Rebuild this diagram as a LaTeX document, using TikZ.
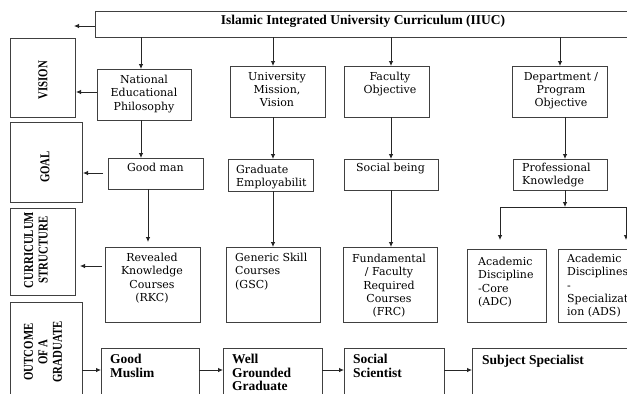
\documentclass[tikz,border=0pt]{standalone}
\usepackage{fontspec}
\setmainfont{Liberation Serif}
\newfontfamily\txtfont{DejaVu Serif}
\newfontfamily\labfont[FakeStretch=0.8]{Liberation Serif}
\usetikzlibrary{arrows.meta,fit}
\begin{document}
\begin{tikzpicture}[x=1bp,y=-1bp,
  box/.style={draw=black!75, line width=0.8bp, inner sep=0pt, outer sep=0pt},
  lin/.style={draw=black!85, line width=0.8bp},
  arr/.style={lin, -{Latex[length=5bp,width=4.5bp]}},
  ctxt/.style={inner sep=0pt, font={\txtfont\fontsize{11bp}{13.3bp}\selectfont}, align=center, anchor=north},
  ltxt/.style={inner sep=0pt, font={\txtfont\fontsize{11bp}{13.3bp}\selectfont}, align=left, anchor=north west},
  btxt/.style={inner sep=0pt, font={\bfseries\fontsize{13.5bp}{13.5bp}\selectfont}, align=left, anchor=north west},
  vlab/.style={inner sep=0pt, font={\labfont\bfseries\fontsize{13.5bp}{14.5bp}\selectfont}, align=center, rotate=90},
]
\useasboundingbox (0,0) rectangle (627,393);
\clip (0,0) rectangle (627,393);
\fill[white] (0,0) rectangle (627,393);

% boxes
\node[box, fit={(95,11)(640,37)}] (title) {};
\node[box, fit={(10,38)(75,117)}] (vision) {};
\node[box, fit={(10,122)(82,202)}] (goal) {};
\node[box, fit={(10,208)(75,295)}] (curr) {};
\node[box, fit={(10,302)(82,410)}] (outcome) {};
\node[box, fit={(97,69)(191,120)}] (nep) {};
\node[box, fit={(230,66)(325,117)}] (umv) {};
\node[box, fit={(344,66)(429,117)}] (fo) {};
\node[box, fit={(512,66)(607,117)}] (dpo) {};
\node[box, fit={(108,158)(203,189)}] (gm) {};
\node[box, fit={(228,159)(313,191)}] (ge) {};
\node[box, fit={(344,159)(438,190)}] (sb) {};
\node[box, fit={(513,159)(607,190)}] (pk) {};
\node[box, fit={(105,247)(200,322)}] (rkc) {};
\node[box, fit={(226,247)(320,322)}] (gsc) {};
\node[box, fit={(343,247)(437,322)}] (frc) {};
\node[box, fit={(467,249)(546,322)}] (adc) {};
\node[box, fit={(558,249)(640,322)}] (ads) {};
\node[box, fit={(101,348)(199,410)}] (gmu) {};
\node[box, fit={(223,348)(322,410)}] (wgg) {};
\node[box, fit={(344,348)(444,410)}] (ss) {};
\node[box, fit={(472,348)(640,410)}] (subj) {};

% texts
\node[inner sep=0pt, font={\bfseries\fontsize{13.5bp}{14bp}\selectfont}, anchor=base] (titlet) at (363,24) {Islamic Integrated University Curriculum (IIUC)};
\node[vlab] (visiont) at (43,80) {VISION};
\node[vlab] (goalt) at (45,167) {GOAL};
\node[vlab] (currt) at (36,250) {CURRICULUM\\STRUCTURE};
\node[vlab] (outcomet) at (43,352) {OUTCOME\\OF A\\GRADUATE};

\node[ctxt] (nept) at (144,75) {National\\Educational\\Philosophy};
\node[ctxt] (umvt) at (277,72) {University\\Mission,\\Vision};
\node[ctxt] (fot) at (390,72) {Faculty\\Objective};
\node[ctxt] (dpot) at (561,72) {Department /\\Program\\Objective};
\node[ctxt] (gmt) at (155.5,163) {Good man};
\node[ltxt] (get) at (236,165) {Graduate\\Employabilit};
\node[ctxt] (sbt) at (390.5,163) {Social being};
\node[ltxt] (pkt) at (522,163) {Professional\\Knowledge};
\node[ctxt] (rkct) at (152,253) {Revealed\\Knowledge\\Courses\\(RKC)};
\node[ltxt] (gsct) at (235,253) {Generic Skill\\Courses\\(GSC)};
\node[ctxt] (frct) at (389,254) {Fundamental\\/ Faculty\\Required\\Courses\\(FRC)};
\node[ltxt] (adct) at (478,257) {Academic\\Discipline\\-Core\\(ADC)};
\node[ltxt] (adst) at (567,254) {Academic\\Disciplines\\-\\Specializat\\ion (ADS)};
\node[btxt] (gmut) at (110,354) {Good\\Muslim};
\node[btxt] (wggt) at (232,354) {Well\\Grounded\\Graduate};
\node[btxt] (sst) at (353,354) {Social\\Scientist};
\node[btxt] (subjt) at (482,355) {Subject Specialist};

% helper coordinates
\coordinate (tl) at (74,26);
\coordinate (x141) at (141,0);
\coordinate (x148) at (148,0);
\coordinate (x273) at (273,0);
\coordinate (x391) at (391,0);
\coordinate (x560) at (560,0);
\coordinate (x565) at (565,0);
\coordinate (y26) at (0,26);
\coordinate (y92) at (0,92);
\coordinate (y173) at (0,173);
\coordinate (y266) at (0,266);
\coordinate (y370) at (0,370);
\coordinate (jn) at (565,207);
\coordinate (jl) at (500,207);
\coordinate (jr) at (626,207);

% connectors
\draw[arr] (title.west |- y26) -- (tl);
\draw[arr] (title.south -| x141) -- (nep.north -| x141);
\draw[arr] (title.south -| x273) -- (umv.north -| x273);
\draw[arr] (title.south -| x391) -- (fo.north -| x391);
\draw[arr] (title.south -| x560) -- (dpo.north -| x560);
\draw[arr, shorten >=1bp] (nep.west |- y92) -- (vision.east |- y92);
\draw[arr] (nep.south -| x141) -- (gm.north -| x141);
\draw[arr] (umv.south -| x273) -- (ge.north -| x273);
\draw[arr] (fo.south -| x391) -- (sb.north -| x391);
\draw[arr] (dpo.south -| x565) -- (pk.north -| x565);
\draw[arr, shorten <=5bp, shorten >=1bp] (gm.west |- y173) -- (goal.east |- y173);
\draw[arr, shorten >=5bp] (gm.south -| x148) -- (rkc.north -| x148);
\draw[arr] (ge.south -| x273) -- (gsc.north -| x273);
\draw[arr] (sb.south -| x391) -- (frc.north -| x391);
\draw[arr] (pk.south -| x565) -- (jn);
\draw[lin] (jl) -- (jr);
\draw[arr, shorten >=9bp] (jl) -- (adc.north -| jl);
\draw[arr, shorten >=9bp] (jr) -- (ads.north -| jr);
\draw[arr, shorten <=3bp, shorten >=5bp] (rkc.west |- y266) -- (curr.east |- y266);
\draw[arr] (outcome.east |- y370) -- (gmu.west |- y370);
\draw[arr] (gmu.east |- y370) -- (wgg.west |- y370);
\draw[arr] (wgg.east |- y370) -- (ss.west |- y370);
\draw[arr] (ss.east |- y370) -- (subj.west |- y370);
\end{tikzpicture}
\end{document}
